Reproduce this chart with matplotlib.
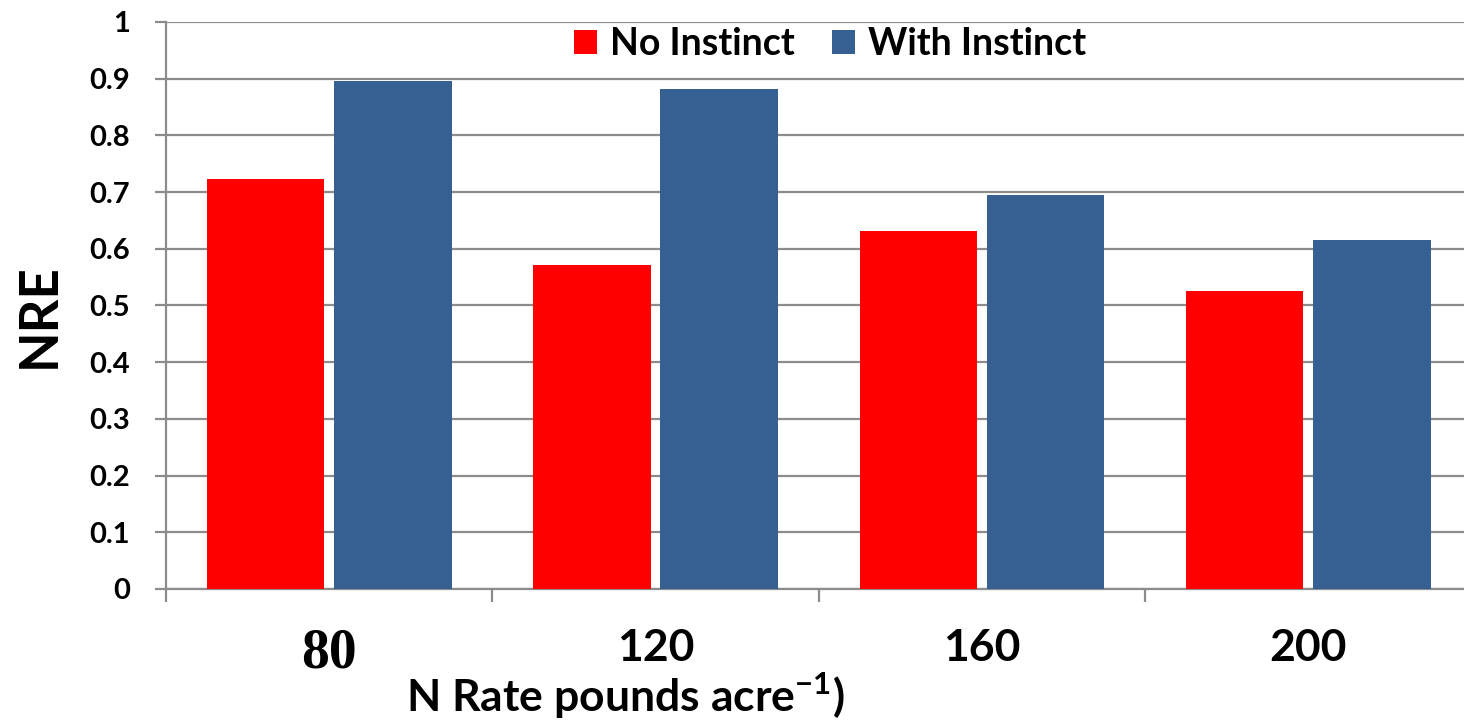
import matplotlib
matplotlib.use("Agg")
import matplotlib.pyplot as plt
import numpy as np

# datos
rates = ["80", "120", "160", "200"]
no_instinct = [0.723, 0.572, 0.632, 0.525]
with_instinct = [0.896, 0.882, 0.694, 0.615]
yticks = [0, 0.1, 0.2, 0.3, 0.4, 0.5, 0.6, 0.7, 0.8, 0.9, 1]
ytick_labels = ["0", "0.1", "0.2", "0.3", "0.4", "0.5", "0.6", "0.7", "0.8", "0.9", "1"]

plt.rcParams["font.family"] = ["Lato", "DejaVu Sans"]
plt.rcParams["font.weight"] = "bold"
plt.rcParams["mathtext.fontset"] = "custom"
plt.rcParams["mathtext.rm"] = "Lato"
plt.rcParams["mathtext.bf"] = "Lato:bold"

gris = "#8c8c8c"
rojo = "#ff0000"
azul = "#376092"

fig = plt.figure(figsize = (14.64, 7.21), dpi = 100)
ax = fig.add_axes([0.1134, 0.1831, 0.8917, 0.7864])

x = np.arange(len(rates))
ancho = 0.36
ax.bar(x - 0.195, no_instinct, ancho, color = rojo, label = "No Instinct", zorder = 3)
ax.bar(x + 0.195, with_instinct, ancho, color = azul, label = "With Instinct", zorder = 3)

ax.set_xlim(-0.5, len(rates) - 0.5)
ax.set_ylim(0, 1)

# ejes y grilla
ax.set_yticks(yticks, ytick_labels)
ax.yaxis.grid(True, color = gris, linewidth = 1.6, zorder = 0)
ax.set_axisbelow(True)
for lado in ["top", "right"]:
    ax.spines[lado].set_visible(False)
for lado in ["left", "bottom"]:
    ax.spines[lado].set_color(gris)
    ax.spines[lado].set_linewidth(1.6)
ax.tick_params(axis = "y", direction = "out", length = 8, width = 1.6, color = gris,
               labelsize = 21, pad = 18)

# ticks separadores en x, etiquetas en el centro de cada grupo
ax.set_xticks(np.arange(len(rates) + 1) - 0.5, [""] * (len(rates) + 1))
ax.tick_params(axis = "x", which = "major", direction = "out", length = 9, width = 1.6, color = gris)
ax.set_xticks(x, rates, minor = True)
ax.tick_params(axis = "x", which = "minor", length = 0, labelsize = 32, pad = 28)
etiquetas = ax.get_xticklabels(minor = True)
etiquetas[0].set_fontfamily("Liberation Serif")
etiquetas[0].set_fontsize(40)

ax.set_ylabel("NRE", fontsize = 38, fontweight = "bold")
ax.yaxis.set_label_coords(-0.078, 0.483)
ax.set_xlabel(r"N Rate pounds acre$^{\mathbf{-1}}$)", fontsize = 32, fontweight = "bold", va = "top")
ax.xaxis.set_label_coords(0.3516, -0.145)

ax.legend(loc = "center", bbox_to_anchor = (0.5086, 0.961), ncol = 2, frameon = False,
          fontsize = 27, handlelength = 0.6, handleheight = 0.6, handletextpad = 0.35,
          columnspacing = 1.0, borderaxespad = 0)

plt.savefig("out.png", dpi = 100)
